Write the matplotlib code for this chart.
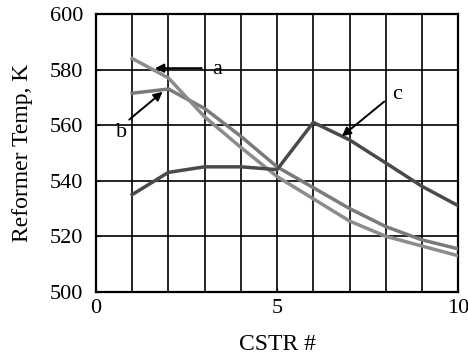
import numpy as np
import matplotlib.pyplot as plt
from matplotlib.ticker import MultipleLocator

plt.rcParams['font.family'] = ['Liberation Serif', 'DejaVu Serif']

cstr = [1, 2, 3, 4, 5, 6, 7, 8, 9, 10]
temp_a = [584, 577, 563, 552, 541.5, 533.5, 525.5, 520, 516.5, 513]
temp_b = [571.5, 573, 566, 556, 545, 537.5, 530, 523.5, 518.7, 515.5]
temp_c = [535, 543, 545, 545, 544, 561, 554.7, 546.4, 538, 531]

fig = plt.figure(figsize=(4.68, 3.59), dpi=100)
ax = fig.add_axes([0.205, 0.187, 0.774, 0.774])

ax.plot(cstr, temp_b, color='#7a7a7a', lw=2.5, zorder=3)
ax.plot(cstr, temp_a, color='#8c8c8c', lw=2.5, zorder=3)
ax.plot(cstr, temp_c, color='#4a4a4a', lw=2.5, zorder=3)

arrow = dict(arrowstyle='-|>', color='black', lw=1.4, mutation_scale=13, shrinkA=0, shrinkB=0)
ax.annotate('', xy=(1.63, 580.5), xytext=(2.92, 580.5), arrowprops=arrow, zorder=4)
ax.text(3.22, 580, 'a', fontsize=16, va='center', ha='left')
ax.annotate('', xy=(1.84, 572), xytext=(0.92, 562), arrowprops=arrow, zorder=4)
ax.text(0.72, 557.5, 'b', fontsize=16, va='center', ha='center')
ax.annotate('', xy=(6.79, 556), xytext=(7.96, 568.5), arrowprops=arrow, zorder=4)
ax.text(8.3, 571, 'c', fontsize=16, va='center', ha='center')

ax.set_xlim(0, 10)
ax.set_ylim(500, 600)
ax.xaxis.set_major_locator(MultipleLocator(5))
ax.xaxis.set_minor_locator(MultipleLocator(1))
ax.yaxis.set_major_locator(MultipleLocator(20))
ax.grid(True, which='both', axis='x', color='black', lw=1.2)
ax.grid(True, which='major', axis='y', color='black', lw=1.2)
ax.tick_params(axis='both', which='both', direction='in', length=3, labelsize=16)
ax.tick_params(axis='x', which='minor', length=0)
ax.tick_params(axis='y', pad=9)
ax.tick_params(axis='x', pad=5)
for s in ax.spines.values():
    s.set_linewidth(1.6)

ax.set_xlabel('CSTR #', fontsize=17, labelpad=12)
ax.set_ylabel('Reformer Temp, K', fontsize=17, labelpad=12)

fig.savefig('out.png', dpi=100)
